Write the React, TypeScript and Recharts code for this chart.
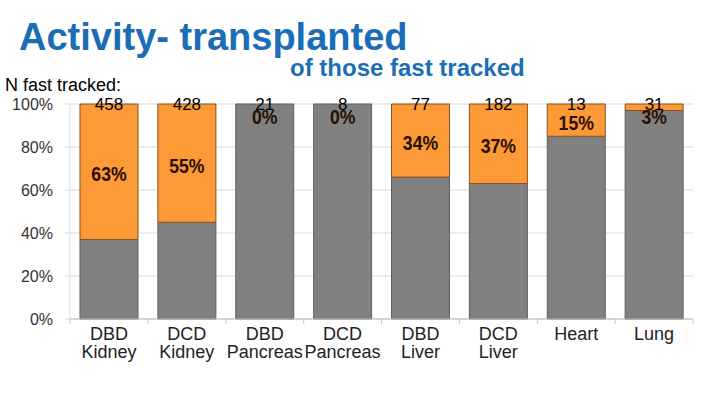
import React from 'react';
import { BarChart, Bar, XAxis, YAxis, CartesianGrid, LabelList } from 'recharts';

// organ groups, in drawing order
const organs = ['DBD Kidney', 'DCD Kidney', 'DBD Pancreas', 'DCD Pancreas', 'DBD Liver', 'DCD Liver', 'Heart', 'Lung'];
// % transplanted (grey) and % not transplanted (orange) of those fast tracked
const transplanted = [37, 45, 100, 100, 66, 63, 85, 97];
const fastTrackedPct = [63, 55, 0, 0, 34, 37, 15, 3];
// N fast tracked
const nFastTracked = [458, 428, 21, 8, 77, 182, 13, 31];
const yTicks = [0, 20, 40, 60, 80, 100];

const data = organs.map((name, i) => ({
  name,
  grey: transplanted[i],
  orange: fastTrackedPct[i],
  n: nFastTracked[i],
}));

const BLUE = '#1b6db5';
const FONT = 'Liberation Sans, Arial, sans-serif';

const XTick = (props: any) => {
  const { x, y, payload } = props;
  const parts = String(payload.value).split(' ');
  return (
    <g>
      <line x1={x + 39} x2={x + 39} y1={y - 8} y2={y - 3} stroke="#c8c8c8" />
      {payload.index === 0 && <line x1={x - 39} x2={x - 39} y1={y - 8} y2={y - 3} stroke="#c8c8c8" />}
      <text x={x} y={y} textAnchor="middle" fill="#222" fontSize={18} fontFamily={FONT}>
        {parts.map((p, i) => (
          <tspan key={i} x={x} dy={i === 0 ? 13 : 18}>
            {p}
          </tspan>
        ))}
      </text>
    </g>
  );
};

// labels hang off an invisible copy of the grey bar so zero-height orange segments still get one
const orangePx = (height: number, index: number) =>
  (height / transplanted[index]) * fastTrackedPct[index];

const PctLabel = (props: any) => {
  const { x, y, width, height, index } = props;
  const oh = orangePx(height, index);
  const top = y - oh;
  const cy = Math.max(top + oh / 2 + 4, top + 14);
  return (
    <text
      transform={`translate(${x + width / 2},${cy}) scale(0.84,1)`}
      textAnchor="middle"
      dominantBaseline="middle"
      fill="#2a0e00"
      fontSize={21}
      fontWeight="bold"
      fontFamily={FONT}
    >
      {fastTrackedPct[index]}%
    </text>
  );
};

const NLabel = (props: any) => {
  const { x, y, width, height, index } = props;
  const top = y - orangePx(height, index);
  return (
    <text x={x + width / 2} y={top + 6} textAnchor="middle" fill="#000" fontSize={17} fontFamily={FONT}>
      {nFastTracked[index]}
    </text>
  );
};

export default function App() {
  return (
    <div style={{ position: 'absolute', left: 0, top: 0, width: 720, height: 405, background: '#fff', fontFamily: FONT }}>
      <BarChart
        width={720}
        height={405}
        data={data}
        margin={{ top: 104, right: 27, bottom: 36, left: 10 }}
        barSize={58}
      >
        <CartesianGrid vertical={false} stroke="#d9d9d9" />
        <XAxis
          dataKey="name"
          height={50}
          interval={0}
          axisLine={{ stroke: '#bfbfbf' }}
          tickLine={false}
          tick={<XTick />}
        />
        <XAxis dataKey="name" xAxisId="lbl" hide />
        <YAxis
          width={60}
          domain={[0, 100]}
          ticks={yTicks}
          tickFormatter={(v) => `${v}%`}
          axisLine={{ stroke: '#d9d9d9' }}
          tickLine={{ stroke: '#d9d9d9' }}
          tickSize={5}
          tickMargin={12}
          tick={{ fill: '#333', fontSize: 16, fontFamily: FONT }}
        />
        <Bar dataKey="grey" stackId="a" fill="#808080" stroke="#5f5f5f" strokeWidth={1} isAnimationActive={false} />
        <Bar dataKey="orange" stackId="a" fill="#fb9a36" stroke="#8a5020" strokeWidth={1} isAnimationActive={false} />
        <Bar dataKey="grey" xAxisId="lbl" fill="none" stroke="none" isAnimationActive={false} legendType="none">
          <LabelList dataKey="orange" content={<PctLabel />} />
          <LabelList dataKey="n" content={<NLabel />} />
        </Bar>
      </BarChart>
      <div style={{ position: 'absolute', left: 19, top: 18, fontSize: 38, lineHeight: 1, fontWeight: 'bold', color: BLUE, whiteSpace: 'nowrap' }}>
        Activity- transplanted
      </div>
      <div style={{ position: 'absolute', left: 290, top: 56, fontSize: 24, lineHeight: 1, fontWeight: 'bold', color: BLUE, whiteSpace: 'nowrap' }}>
        of those fast tracked
      </div>
      <div style={{ position: 'absolute', left: 5, top: 76, fontSize: 18, lineHeight: 1, color: '#000', whiteSpace: 'nowrap' }}>
        N fast tracked:
      </div>
    </div>
  );
}
